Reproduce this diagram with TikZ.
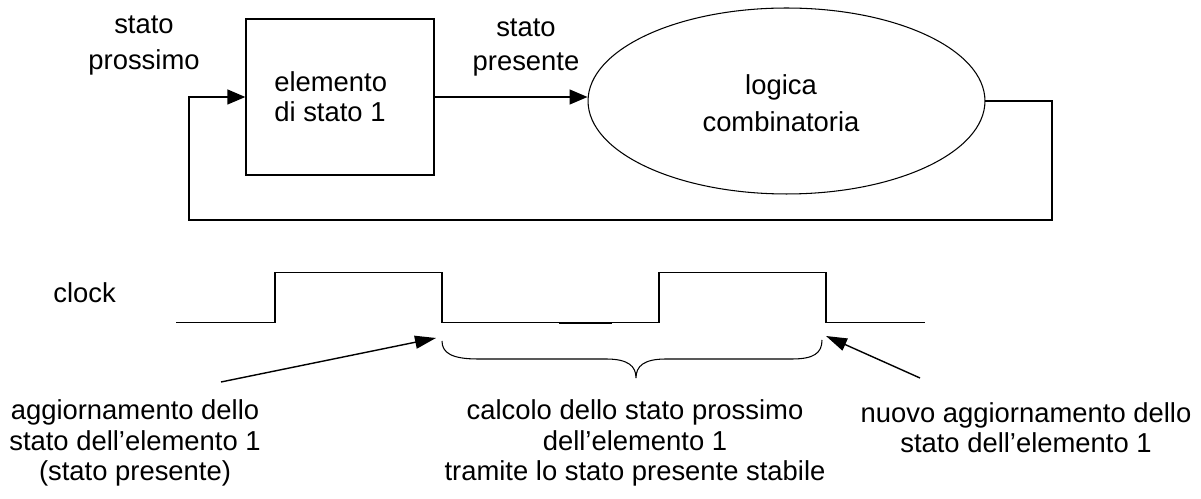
\documentclass[tikz,border=0pt]{standalone}
\usepackage{fontspec}
\setmainfont{Liberation Sans}
\usetikzlibrary{arrows.meta,shapes.geometric}
\begin{document}
\begin{tikzpicture}[x=0.02cm,y=-0.02cm,
  wire/.style={line width=0.8pt},
  arr/.style={wire,-{Triangle[length=0.36cm,width=0.30cm]}},
  ptr/.style={wire,-{Triangle[length=0.42cm,width=0.26cm]}},
  lbl/.style={font=\fontsize{15.6}{20.5}\selectfont,align=center,inner sep=0pt},
  boxtext/.style={font=\fontsize{15.6}{17.2}\selectfont,align=left,inner sep=0pt},
  note/.style={font=\fontsize{15.6}{17.4}\selectfont,align=center,inner sep=0pt},
]
\useasboundingbox (0,0) rectangle (1201,499);

% state element and combinational logic
\node[draw,wire,minimum width=3.76cm,minimum height=3.12cm,inner sep=0pt] (elem) at (340,97) {};
\node[boxtext,anchor=west] (elemtxt) at (274,97) {elemento\\di stato 1};
\node[draw,ellipse,line width=0.6pt,minimum width=7.94cm,minimum height=3.72cm,inner sep=0pt] (logic) at (786.5,101) {};
\node[lbl,font=\fontsize{15.6}{21}\selectfont] (logictxt) at (781,103.5) {logica\\combinatoria};

% labels on the signals
\node[lbl] (next) at (144,45) {stato\\prossimo};
\node[lbl,font=\fontsize{15.6}{19.9}\selectfont] (pres) at (526,47.5) {stato\\presente};

% signal paths
\coordinate (fbR) at (1052,220);
\coordinate (fbL) at (189,220);
\draw[arr] (elem.east) -- (elem.east -| logic.west);
\draw[arr] (logic.east) -| (fbR) -- (fbL) |- (elem.west);

% clock waveform
\node[lbl,anchor=west] (clk) at (53,293) {clock};
\draw[wire] (176,322.7) -- (275,322.7) -- (275,272.7) -- (442,272.7) -- (442,322.7)
  -- (659,322.7) -- (659,272.7) -- (826,272.7) -- (826,322.7) -- (925,322.7);
\draw[wire] (559,323.6) -- (612,323.6);

% brace over the computation interval
\draw[line width=0.6pt] (442,341) .. controls (442,353) and (452,359) .. (478,359)
  -- (606,359) .. controls (628,359) and (636,366) .. (636,378)
  .. controls (636,366) and (644,359) .. (666,359)
  -- (792,359) .. controls (814,359) and (822,353) .. (822,340);

% pointers to the clock edges
\coordinate (s1) at (221,382);
\coordinate (t1) at (436,338);
\coordinate (s2) at (920,378);
\coordinate (t2) at (826,336);
\draw[ptr] (s1) -- (t1);
\draw[ptr] (s2) -- (t2);

% notes
\node[note] (n1) at (135,443) {aggiornamento dello\\stato dell’elemento 1\\(stato presente)};
\node[note] (n2) at (635,443) {calcolo dello stato prossimo\\dell’elemento 1\\tramite lo stato presente stabile};
\node[note] (n3) at (1026,427.5) {nuovo aggiornamento dello\\stato dell’elemento 1};
\end{tikzpicture}
\end{document}
